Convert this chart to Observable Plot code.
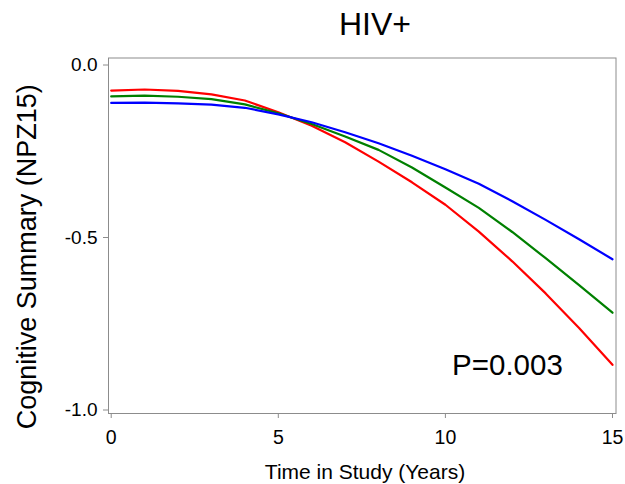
<!DOCTYPE html>
<html>
<head>
<meta charset="utf-8">
<script src="https://cdn.jsdelivr.net/npm/d3@7"></script>
<script src="https://cdn.jsdelivr.net/npm/@observablehq/plot@0.6"></script>
<style>
  html, body { margin: 0; padding: 0; background: #fff; }
  #chart svg { display: block; }
</style>
</head>
<body>
<div id="chart"></div>
<script>
// Predicted cognitive trajectories (NPZ15) over time in study, HIV+ group
const years = [0, 1, 2, 3, 4, 5, 6, 7, 8, 9, 10, 11, 12, 13, 14, 15];
const seriesRed = [-0.074, -0.071, -0.075, -0.085, -0.103, -0.137, -0.176, -0.224, -0.280, -0.340, -0.405, -0.483, -0.569, -0.662, -0.762, -0.869];
const seriesGreen = [-0.091, -0.089, -0.092, -0.099, -0.114, -0.140, -0.171, -0.207, -0.246, -0.297, -0.355, -0.414, -0.484, -0.560, -0.638, -0.718];
const seriesBlue = [-0.110, -0.109, -0.111, -0.115, -0.124, -0.143, -0.166, -0.195, -0.227, -0.263, -0.302, -0.344, -0.395, -0.449, -0.505, -0.563];
const seriesKeys = ["red", "green", "blue"];
const seriesColors = ["#ff0000", "#1c8c1c", "#0000ff"];
const xTicks = [0, 5, 10, 15];
const yTicks = [0, -0.5, -1];
const titleText = "HIV+";
const xLabel = "Time in Study (Years)";
const yLabel = "Cognitive Summary (NPZ15)";
const pValueText = "P=0.003";

const seriesValues = { red: seriesRed, green: seriesGreen, blue: seriesBlue };
const rows = seriesKeys.flatMap(key =>
  years.map((year, i) => ({ series: key, year, value: seriesValues[key][i] }))
);

const font = "'Liberation Sans', Arial, Helvetica, sans-serif";

const chart = Plot.plot({
  width: 625,
  height: 484,
  marginLeft: 108,
  marginRight: 9.5,
  marginTop: 57.5,
  marginBottom: 71,
  style: { fontFamily: font, background: "#fff", color: "#000" },
  x: { domain: [-0.081, 15.105] },
  y: { domain: [-1.0101, 0.0203] },
  color: { domain: seriesKeys, range: seriesColors },
  marks: [
    Plot.frame({ stroke: "#8c8c8c", strokeWidth: 1 }),
    Plot.axisX({
      ticks: xTicks, tickSize: 5, tickPadding: 12, fontSize: 19.5,
      stroke: "#8c8c8c", label: null
    }),
    Plot.axisY({
      ticks: yTicks, tickFormat: d => d.toFixed(1), tickSize: 5, tickPadding: 6,
      fontSize: 19, stroke: "#8c8c8c", label: null
    }),
    Plot.line(rows, {
      x: "year", y: "value", z: "series", stroke: "series",
      strokeWidth: 2.2, curve: "linear"
    }),
    // p-value annotation inside the plot area
    Plot.text([pValueText], {
      x: 10.2, y: -0.870, text: d => d, textAnchor: "start", lineAnchor: "middle",
      fontSize: 29.5, fill: "#000"
    }),
    // title above the frame
    Plot.text([titleText], {
      frameAnchor: "top", dx: 12.75, dy: -33.7, text: d => d,
      textAnchor: "middle", lineAnchor: "middle",
      fontSize: 32, fill: "#000"
    }),
    // x-axis title
    Plot.text([xLabel], {
      frameAnchor: "bottom", dx: 2.75, dy: 58.3, text: d => d,
      textAnchor: "middle", lineAnchor: "middle",
      fontSize: 21, fill: "#000"
    }),
    // y-axis title, rotated
    Plot.text([yLabel], {
      frameAnchor: "left", dx: -81.6, dy: 21, rotate: -90, text: d => d,
      textAnchor: "middle", lineAnchor: "middle",
      fontSize: 27, fill: "#000"
    })
  ]
});

document.getElementById("chart").appendChild(chart);
</script>
</body>
</html>
